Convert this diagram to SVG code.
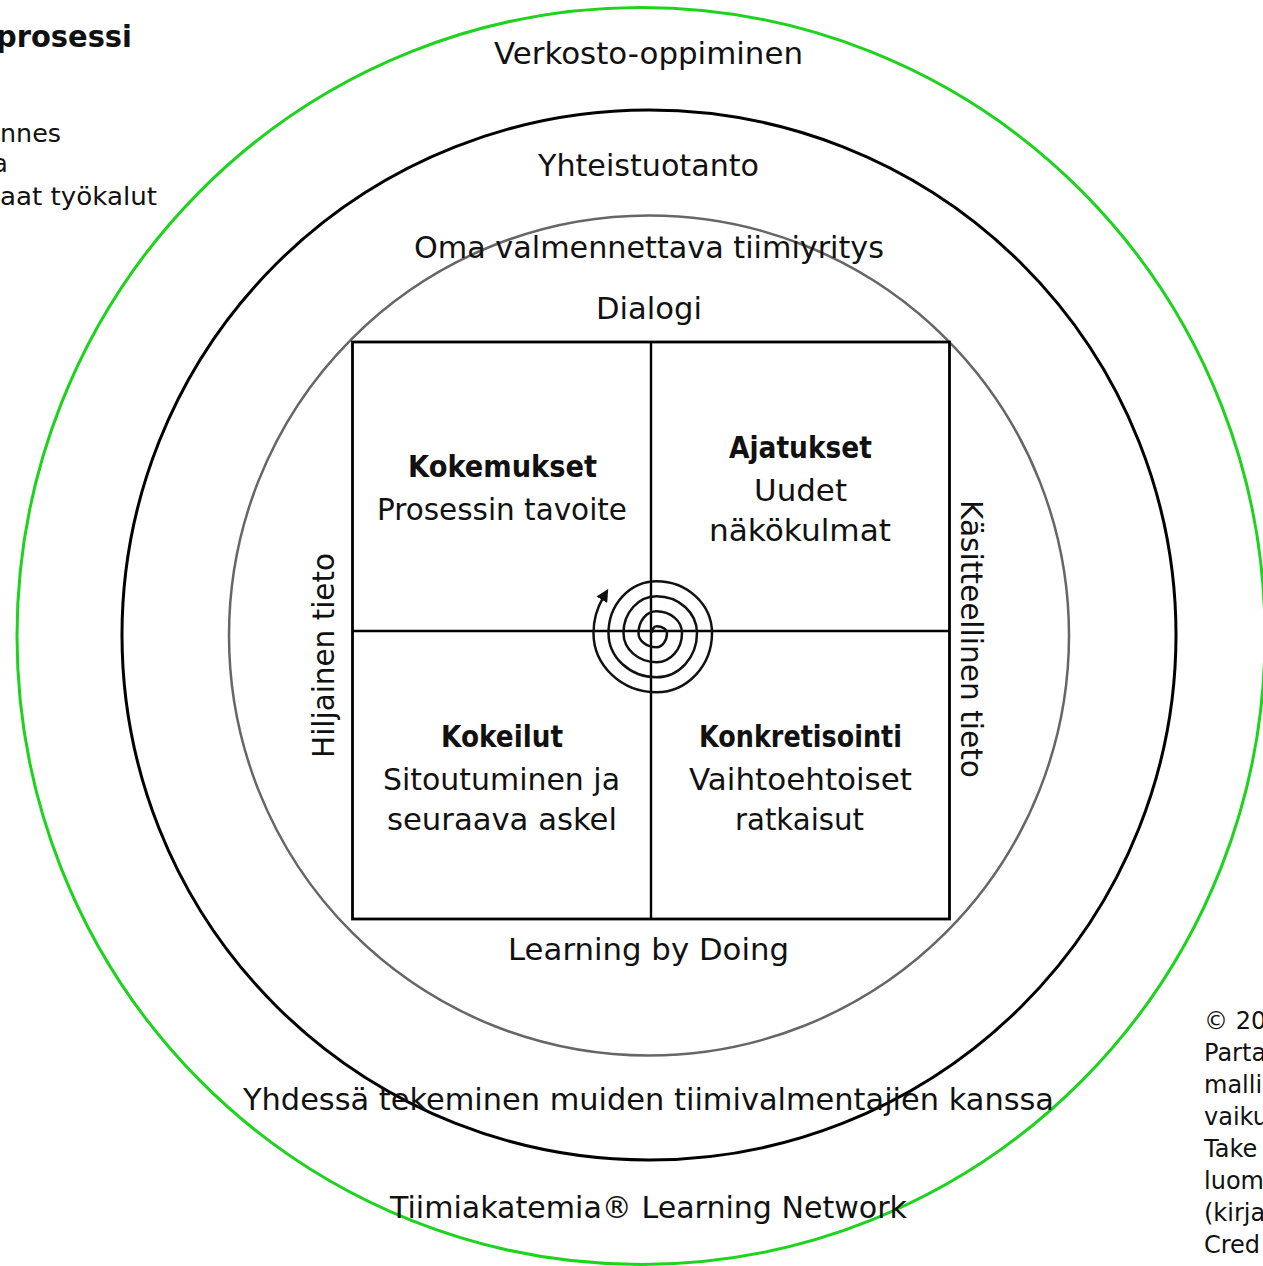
<svg xmlns="http://www.w3.org/2000/svg" width="1263" height="1266" viewBox="0 0 1263 1266">
<style>
text{font-family:"DejaVu Sans","Liberation Sans",sans-serif;fill:#111;}
.l{font-size:30px;text-anchor:middle;}
.b{font-size:30px;font-weight:bold;text-anchor:middle;}
.s{font-size:24px;}
.ring{fill:none;}
</style>
<defs>
<marker id="ah" viewBox="0 0 10 10" refX="2" refY="5" markerWidth="5" markerHeight="5" orient="auto" markerUnits="strokeWidth">
<path d="M0,0 L10,5 L0,10 z" fill="#111"/>
</marker>
</defs>
<rect width="1263" height="1266" fill="#fff"/>
<g id="rings">
<ellipse id="green-ring" class="ring" cx="641" cy="636" rx="624" ry="628.5" stroke="#1ed31e" stroke-width="3"/>
<ellipse id="black-ring" class="ring" cx="649" cy="635" rx="527" ry="525" stroke="#000" stroke-width="3"/>
<circle id="gray-ring" class="ring" cx="649" cy="635.5" r="420" stroke="#666" stroke-width="2.5"/>
</g>
<g id="quadrants" fill="none" stroke="#000">
<rect x="352.5" y="342" width="597" height="577" stroke-width="2.8"/>
<line x1="651" y1="342" x2="651" y2="919" stroke-width="2.4"/>
<line x1="352.5" y1="631" x2="949.5" y2="631" stroke-width="2.4"/>
</g>
<g id="connectors">
<path id="spiral" fill="none" stroke="#111" stroke-width="2.5" marker-end="url(#ah)" d="M652 633 A4.5 6.75 0 0 1 656.5 626.25 A10.5 6.75 0 0 1 667 633 A10.5 14.25 0 0 1 656.5 647.25 A18 14.25 0 0 1 638.5 633 A18 21.75 0 0 1 656.5 611.25 A25.5 21.75 0 0 1 682 633 A25.5 29.25 0 0 1 656.5 662.25 A33 29.25 0 0 1 623.5 633 A33 36.75 0 0 1 656.5 596.25 A40.5 36.75 0 0 1 697 633 A40.5 44.25 0 0 1 656.5 677.25 A48 44.25 0 0 1 608.5 633 A48 51.75 0 0 1 656.5 581.25 A55.5 51.75 0 0 1 712 633 A55.5 59.25 0 0 1 656.5 692.25 A63 59.25 0 0 1 593.5 633 A63 66.75 0 0 1 603.1 597.6"/>
</g>
<g id="ring-labels">
<text class="l" x="648.5" y="64" textLength="309" lengthAdjust="spacingAndGlyphs">Verkosto-oppiminen</text>
<text class="l" x="648.5" y="176" textLength="221" lengthAdjust="spacingAndGlyphs">Yhteistuotanto</text>
<text class="l" x="649" y="258" textLength="470" lengthAdjust="spacingAndGlyphs">Oma valmennettava tiimiyritys</text>
<text class="l" x="649" y="319" textLength="106" lengthAdjust="spacingAndGlyphs">Dialogi</text>
<text class="l" x="648.5" y="960" textLength="281" lengthAdjust="spacingAndGlyphs">Learning by Doing</text>
<text class="l" x="648.5" y="1110" textLength="811" lengthAdjust="spacingAndGlyphs">Yhdessä tekeminen muiden tiimivalmentajien kanssa</text>
<text class="l" x="648.5" y="1218" textLength="517" lengthAdjust="spacingAndGlyphs">Tiimiakatemia® Learning Network</text>
<text class="l" transform="translate(334 655.5) rotate(-90)" x="0" y="0" textLength="205" lengthAdjust="spacingAndGlyphs">Hiljainen tieto</text>
<text class="l" transform="translate(961 639) rotate(90)" x="0" y="0" textLength="278" lengthAdjust="spacingAndGlyphs">Käsitteellinen tieto</text>
</g>
<g id="node-kokemukset">
<text class="b" x="502.5" y="477" textLength="189" lengthAdjust="spacingAndGlyphs">Kokemukset</text>
<text class="l" x="502" y="520" textLength="250" lengthAdjust="spacingAndGlyphs">Prosessin tavoite</text>
</g>
<g id="node-ajatukset">
<text class="b" x="800.5" y="458" textLength="143" lengthAdjust="spacingAndGlyphs">Ajatukset</text>
<text class="l" x="800.5" y="501" textLength="93" lengthAdjust="spacingAndGlyphs">Uudet</text>
<text class="l" x="800" y="541" textLength="182" lengthAdjust="spacingAndGlyphs">näkökulmat</text>
</g>
<g id="node-kokeilut">
<text class="b" x="502" y="747" textLength="122" lengthAdjust="spacingAndGlyphs">Kokeilut</text>
<text class="l" x="501.5" y="790" textLength="237" lengthAdjust="spacingAndGlyphs">Sitoutuminen ja</text>
<text class="l" x="502" y="830" textLength="230" lengthAdjust="spacingAndGlyphs">seuraava askel</text>
</g>
<g id="node-konkretisointi">
<text class="b" x="800.5" y="747" textLength="203" lengthAdjust="spacingAndGlyphs">Konkretisointi</text>
<text class="l" x="800.5" y="790" textLength="223" lengthAdjust="spacingAndGlyphs">Vaihtoehtoiset</text>
<text class="l" x="799.5" y="830" textLength="129" lengthAdjust="spacingAndGlyphs">ratkaisut</text>
</g>
<g id="top-left-text">
<text x="-4" y="47" style="font-size:31px;font-weight:bold" textLength="136" lengthAdjust="spacingAndGlyphs">prosessi</text>
<text class="s" x="0" y="142" textLength="61" lengthAdjust="spacingAndGlyphs">nnes</text>
<text class="s" x="-7" y="172">a</text>
<text class="s" x="0" y="205" textLength="157" lengthAdjust="spacingAndGlyphs">aat työkalut</text>
</g>
<g id="bottom-right-text">
<text class="s" x="1204" y="1029">© 20</text>
<text class="s" x="1204" y="1061">Parta</text>
<text class="s" x="1204" y="1093">malli</text>
<text class="s" x="1204" y="1125">vaiku</text>
<text class="s" x="1204" y="1157">Take</text>
<text class="s" x="1204" y="1189">luom</text>
<text class="s" x="1204" y="1221">(kirja</text>
<text class="s" x="1204" y="1253">Cred</text>
</g>
</svg>
